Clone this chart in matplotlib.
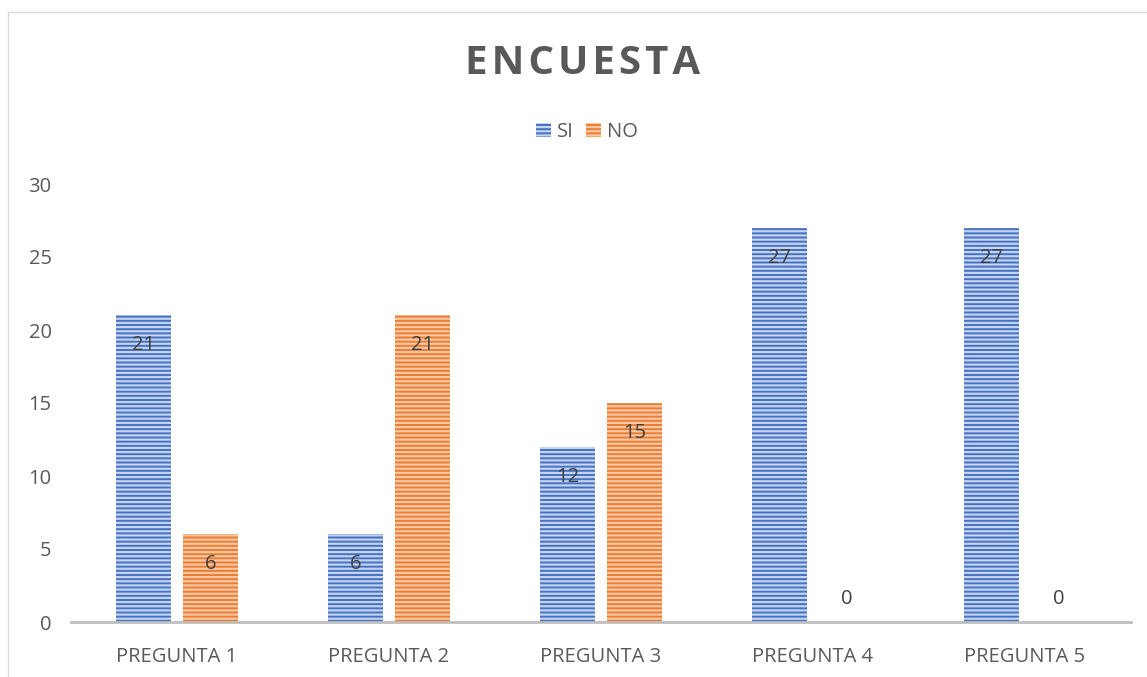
import matplotlib
matplotlib.use("Agg")
import matplotlib.pyplot as plt
from matplotlib.patches import Rectangle
import numpy as np

categories = ["PREGUNTA 1", "PREGUNTA 2", "PREGUNTA 3", "PREGUNTA 4", "PREGUNTA 5"]
si_values = [21, 6, 12, 27, 27]
no_values = [6, 21, 15, 0, 0]
series_names = ["SI", "NO"]
yticks = [0, 5, 10, 15, 20, 25, 30]
title = "ENCUESTA"

plt.rcParams['font.family'] = ['Open Sans', 'DejaVu Sans']
plt.rcParams['hatch.linewidth'] = 1.6

blue = "#4472C4"
orange = "#ED7D31"
blue_h = "#C5D3EE"
orange_h = "#F8C8A6"
text_c = "#595959"
fs = 14.5

fig = plt.figure(figsize=(11.47, 6.77), dpi=100)
ax = fig.add_axes([71/1147, 1-622/677, (1131-71)/1147, (622-184)/677])

x = np.arange(len(categories))
w = 0.255
off = 0.158
b1 = ax.bar(x - off, si_values, w, color=blue, edgecolor=blue_h, linewidth=0, hatch='----', label=series_names[0])
b2 = ax.bar(x + off, no_values, w, color=orange, edgecolor=orange_h, linewidth=0, hatch='----', label=series_names[1])

for bars in (b1, b2):
    for r in bars:
        h = r.get_height()
        cx = r.get_x() + r.get_width()/2
        dy = -30 if h > 0 else 23
        ax.annotate(f"{h:g}", (cx, h), xytext=(0, dy), textcoords='offset pixels',
                    ha='center', va='center', fontsize=fs, color='#404040')

ax.set_xlim(-0.5, len(categories) - 0.5)
ax.set_ylim(0, 30)
ax.set_yticks(yticks)
ax.set_xticks(x)
ax.set_xticklabels(categories)
ax.tick_params(axis='both', length=0, labelsize=fs, labelcolor=text_c)
ax.tick_params(axis='x', pad=18)
ax.tick_params(axis='y', pad=14)
for s in ['top', 'right', 'left']:
    ax.spines[s].set_visible(False)
ax.spines['bottom'].set_color('#BFBFBF')
ax.spines['bottom'].set_linewidth(2)

spaced_title = "\u200a".join(title)
fig.text(583/1147, 1-63/677, spaced_title, ha='center', va='center', fontsize=29,
         fontweight='bold', color=text_c)

leg = fig.legend(handles=[b1, b2], labels=series_names, loc='center', bbox_to_anchor=(587/1147, 1-132/677),
                 ncol=2, frameon=False, fontsize=fs, handlelength=0.75, handleheight=0.75,
                 handletextpad=0.3, columnspacing=0.6, labelcolor=text_c)

fig.patches.append(Rectangle((8/1147, -0.1), 1.2, 1-12/677+0.1, transform=fig.transFigure,
                             fill=False, edgecolor='#D9D9D9', linewidth=1))

fig.savefig("out.png", dpi=100)
